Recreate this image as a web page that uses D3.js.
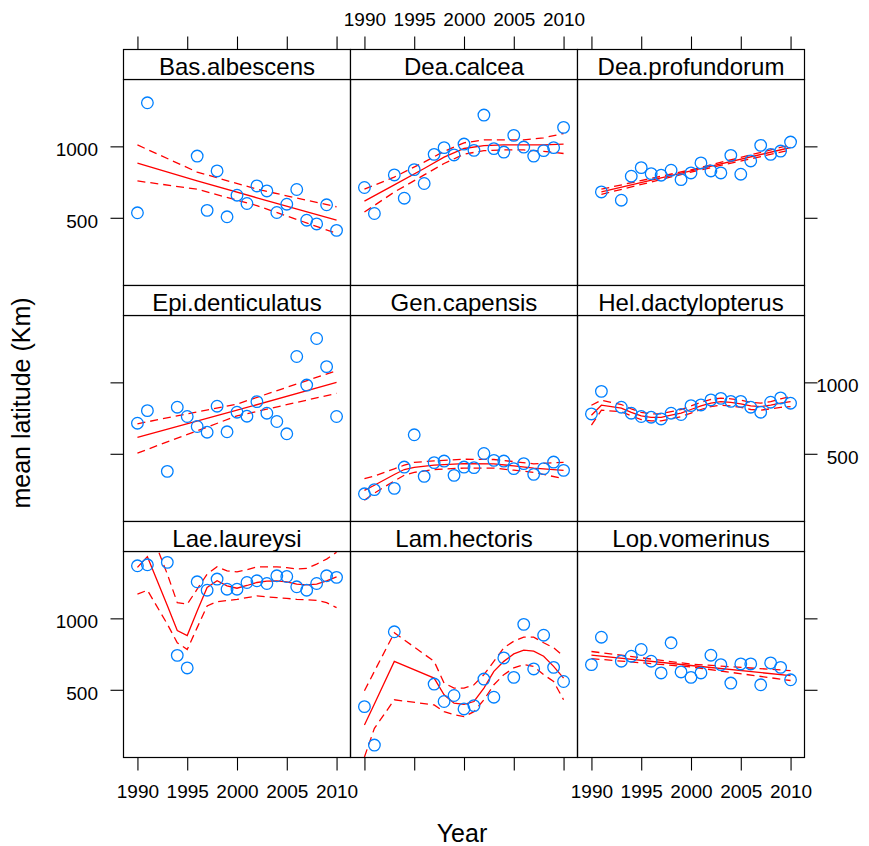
<!DOCTYPE html>
<html>
<head>
<meta charset="UTF-8">
<title>mean latitude by year</title>
<script src="https://cdnjs.cloudflare.com/ajax/libs/d3/7.8.5/d3.min.js"></script>
<style>
    body { margin: 0; background: #fff; }
    svg text { font-family: "Liberation Sans", Arial, sans-serif; fill: #000; }
    .tick text { font-size: 19px; }
    .strip text { font-size: 24px; }
    .title { font-size: 25px; }
</style>
</head>
<body>
<svg id="chart" width="869" height="846"></svg>
<script>
    // panels, left to right, top to bottom
    var species = ["Bas.albescens", "Dea.calcea", "Dea.profundorum",
                   "Epi.denticulatus", "Gen.capensis", "Hel.dactylopterus",
                   "Lae.laureysi", "Lam.hectoris", "Lop.vomerinus"];

    var xTicks = [1990, 1995, 2000, 2005, 2010];
    var yTicks = [500, 1000];

    // observed years and mean latitude
    var obsYears = [
        [1990,1991,1996,1997,1998,1999,2000,2001,2002,2003,2004,2005,2006,2007,2008,2009,2010],
        [1990,1991,1993,1994,1995,1996,1997,1998,1999,2000,2001,2002,2003,2004,2005,2006,2007,2008,2009,2010],
        [1991,1993,1994,1995,1996,1997,1998,1999,2000,2001,2002,2003,2004,2005,2006,2007,2008,2009,2010],
        [1990,1991,1993,1994,1995,1996,1997,1998,1999,2000,2001,2002,2003,2004,2005,2006,2007,2008,2009,2010],
        [1990,1991,1993,1994,1995,1996,1997,1998,1999,2000,2001,2002,2003,2004,2005,2006,2007,2008,2009,2010],
        [1990,1991,1993,1994,1995,1996,1997,1998,1999,2000,2001,2002,2003,2004,2005,2006,2007,2008,2009,2010],
        [1990,1991,1993,1994,1995,1996,1997,1998,1999,2000,2001,2002,2003,2004,2005,2006,2007,2008,2009,2010],
        [1990,1991,1993,1997,1998,1999,2000,2001,2002,2003,2004,2005,2006,2007,2008,2009,2010],
        [1990,1991,1993,1994,1995,1996,1997,1998,1999,2000,2001,2002,2003,2004,2005,2006,2007,2008,2009,2010]
    ];
    var obsLat = [
        [535,1305,932,552,828,507,658,600,723,688,537,595,698,483,457,591,412],
        [712,530,800,637,837,740,944,991,940,1016,972,1219,984,960,1077,995,932,970,991,1133],
        [681,623,791,851,809,798,833,767,814,884,828,814,937,805,898,1007,944,967,1030],
        [714,802,377,826,761,691,651,833,654,791,763,865,784,726,640,1181,981,1307,1110,761],
        [220,249,258,407,633,342,438,449,349,407,403,502,454,449,396,431,356,396,442,384],
        [779,937,826,784,761,756,744,784,775,837,842,877,888,867,867,826,791,861,891,854],
        [1368,1375,1392,741,653,1256,1197,1275,1204,1204,1251,1263,1244,1298,1293,1221,1197,1244,1298,1287],
        [382,113,906,540,418,460,366,389,575,448,723,587,958,646,882,657,558],
        [676,868,700,735,782,700,618,829,625,587,618,742,676,547,681,681,535,688,657,570]
    ];

    // fitted trend with lower / upper band
    var fitYears = [
        [1990,1996,2002,2010],
        [1990,1993,1996,1998,2000,2002,2004,2006,2008,2010],
        [1991,2000,2010],
        [1990,2000,2010],
        [1990,1991,1993,1994,1995,1997,2000,2003,2005,2007,2010],
        [1990,1991,1993,1994,1995,1996,1997,1998,1999,2000,2001,2002,2003,2004,2005,2006,2007,2008,2009,2010],
        [1990,1991,1993,1994,1995,1996,1997,1998,1999,2000,2001,2002,2003,2004,2005,2006,2007,2008,2009,2010],
        [1990,1991,1993,1997,1998,1999,2000,2001,2002,2003,2004,2005,2006,2007,2008,2009,2010],
        [1990,2000,2010]
    ];
    var fitMid = [
        [883,759,640,484],
        [617,730,845,925,985,1005,1010,1010,1010,1015],
        [682,828,992],
        [615,805,1000],
        [244,280,355,390,405,420,431,430,415,400,384],
        [770,840,820,790,765,755,755,770,785,810,835,855,865,860,850,835,830,840,855,865],
        [1357,1432,1090,915,880,1051,1216,1263,1227,1211,1230,1251,1260,1263,1255,1240,1235,1240,1262,1291],
        [254,401,699,582,465,406,398,418,512,629,699,751,777,770,735,664,582],
        [742,670,599]
    ];
    var fitLo = [
        [758,700,585,391],
        [540,680,800,880,945,970,975,975,965,950],
        [664,820,975],
        [505,765,923],
        [175,225,310,350,370,390,400,400,385,370,326],
        [700,805,795,765,740,730,730,745,760,785,810,830,840,835,825,810,805,815,825,830],
        [1169,1197,960,829,782,935,1087,1117,1125,1133,1145,1157,1150,1145,1140,1133,1130,1126,1110,1075],
        [30,230,430,394,347,325,312,347,430,535,606,653,676,664,606,558,430],
        [718,660,565]
    ];
    var fitHi = [
        [1010,820,700,577],
        [700,785,890,965,1025,1045,1045,1045,1060,1090],
        [700,836,1010],
        [710,848,1082],
        [326,345,395,420,440,450,462,460,445,430,440],
        [840,875,845,815,790,780,780,795,810,835,860,880,890,885,875,860,855,865,885,900],
        [1545,1667,1310,1110,1099,1204,1310,1361,1333,1326,1340,1361,1361,1361,1355,1345,1350,1380,1415,1463],
        [493,629,899,699,547,512,512,535,606,699,794,840,868,868,829,794,735],
        [768,680,634]
    ];

    var left0 = 123.5, top0 = 49.5;
    var panelW = 227, panelH = 206, stripH = 30, rowH = 236;

    var svg = d3.select("#chart");
    var x = d3.scaleLinear().domain([1988.6, 2011.4]).range([0, panelW]);
    var y = d3.scaleLinear().domain([26, 1468]).range([panelH, 0]);

    species.forEach(function(name, i) {
        var row = Math.floor(i / 3), col = i % 3;
        var px = left0 + col * panelW;
        var sy = top0 + row * rowH;
        var py = sy + stripH;

        svg.append("clipPath").attr("id", "clip" + i)
            .append("rect").attr("width", panelW).attr("height", panelH);

        var g = svg.append("g").attr("transform", "translate(" + px + "," + py + ")");
        var inner = g.append("g").attr("clip-path", "url(#clip" + i + ")");

        var fit = fitYears[i].map(function(yr, j) {
            return { year: yr, mid: fitMid[i][j], lo: fitLo[i][j], hi: fitHi[i][j] };
        });
        ["lo", "hi", "mid"].forEach(function(k) {
            inner.append("path")
                .datum(fit)
                .attr("fill", "none")
                .attr("stroke", "red")
                .attr("stroke-width", 1.3)
                .attr("stroke-dasharray", k == "mid" ? null : "8,5")
                .attr("d", d3.line()
                    .x(function(d) { return x(d.year); })
                    .y(function(d) { return y(d[k]); }));
        });

        var pts = obsYears[i].map(function(yr, j) { return { year: yr, lat: obsLat[i][j] }; });
        inner.selectAll("circle")
            .data(pts)
            .join("circle")
            .attr("cx", function(d) { return x(d.year); })
            .attr("cy", function(d) { return y(d.lat); })
            .attr("r", 5.8)
            .attr("fill", "none")
            .attr("stroke", "#0080ff")
            .attr("stroke-width", 1.3);

        g.append("rect")
            .attr("width", panelW).attr("height", panelH)
            .attr("fill", "none").attr("stroke", "#000").attr("stroke-width", 1.2);

        var strip = svg.append("g").attr("class", "strip")
            .attr("transform", "translate(" + px + "," + sy + ")");
        strip.append("rect")
            .attr("width", panelW).attr("height", stripH)
            .attr("fill", "#fff").attr("stroke", "#000").attr("stroke-width", 1.2);
        strip.append("text")
            .attr("x", panelW / 2).attr("y", 25.5)
            .attr("text-anchor", "middle")
            .text(name);
    });

    function clean(a) {
        a.select(".domain").remove();
        a.selectAll(".tick line").attr("stroke", "#000").attr("stroke-width", 1.1);
    }

    var bottomY = top0 + 2 * rowH + stripH + panelH;
    for (var c = 0; c < 3; c++) {
        var ax = left0 + c * panelW;
        svg.append("g")
            .attr("transform", "translate(" + ax + "," + top0 + ")")
            .call(d3.axisTop(x).tickValues(xTicks).tickSize(13).tickSizeOuter(0).tickPadding(10.5)
                .tickFormat(c == 1 ? d3.format("d") : ""))
            .call(clean);
        svg.append("g")
            .attr("transform", "translate(" + ax + "," + bottomY + ")")
            .call(d3.axisBottom(x).tickValues(xTicks).tickSize(13).tickSizeOuter(0).tickPadding(14)
                .tickFormat(c != 1 ? d3.format("d") : ""))
            .call(clean);
    }

    var rightX = left0 + 3 * panelW;
    for (var r = 0; r < 3; r++) {
        var ay = top0 + r * rowH + stripH;
        svg.append("g")
            .attr("transform", "translate(" + left0 + "," + ay + ")")
            .call(d3.axisLeft(y).tickValues(yTicks).tickSize(13).tickSizeOuter(0).tickPadding(12.5)
                .tickFormat(r != 1 ? d3.format("d") : ""))
            .call(clean)
            .selectAll(".tick text").attr("dy", "0.5em");
        var ra = svg.append("g")
            .attr("transform", "translate(" + rightX + "," + ay + ")")
            .call(d3.axisRight(y).tickValues(yTicks).tickSize(13).tickSizeOuter(0).tickPadding(2)
                .tickFormat(r == 1 ? d3.format("d") : ""))
            .call(clean);
        ra.selectAll(".tick text").attr("text-anchor", "end").attr("x", 54).attr("dy", "0.5em");
    }

    svg.append("text").attr("class", "title")
        .attr("x", 462).attr("y", 842)
        .attr("text-anchor", "middle")
        .text("Year");

    svg.append("text").attr("class", "title")
        .attr("transform", "translate(30,403) rotate(-90)")
        .attr("text-anchor", "middle")
        .text("mean latitude (Km)");
</script>
</body>
</html>
